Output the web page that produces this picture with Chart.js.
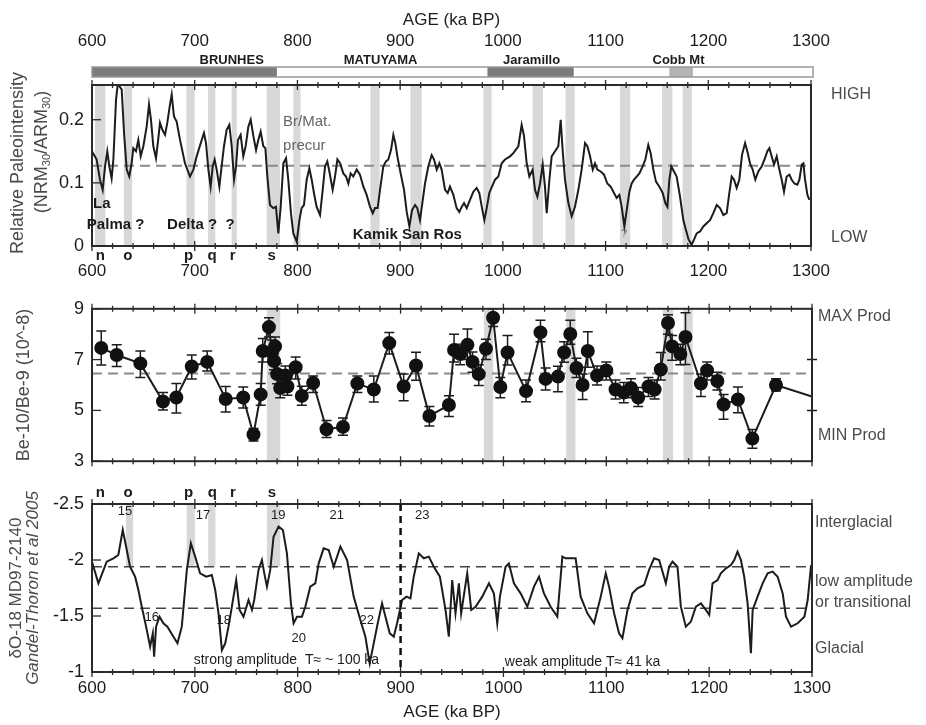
<!DOCTYPE html>
<html>
<head>
<meta charset="utf-8">
<script src="https://cdn.jsdelivr.net/npm/chart.js@4.4.1/dist/chart.umd.min.js"></script>
<style>
  html, body { margin: 0; padding: 0; background: #fff; }
  #wrap { position: relative; width: 926px; height: 725px; overflow: hidden; }
  canvas { position: absolute; left: 0; }
</style>
</head>
<body>
<div id="wrap">
  <canvas id="c1" width="926" height="290" style="top:0"></canvas>
  <canvas id="c2" width="926" height="190" style="top:290px"></canvas>
  <canvas id="c3" width="926" height="245" style="top:480px"></canvas>
</div>
<script>
// ---- data ----
const ageTicks = [600, 700, 800, 900, 1000, 1100, 1200, 1300];
const pintTicks = [0, 0.1, 0.2];
const beTicks = [3, 5, 7, 9];
const o18Ticks = [-2.5, -2, -1.5, -1];

// relative paleointensity (age ka, NRM30/ARM30)
const paleoIntensity = [
  [600,0.150],[604.5,0.137],[607.8,0.105],[610.4,0.089],[612.7,0.126],[614.9,0.150],[616.9,0.126],[619.1,0.107],[620.8,0.137],[623.4,0.232],
  [625,0.255],[626.6,0.253],[628.9,0.248],[631.2,0.179],[633.8,0.121],[636.3,0.110],[638.6,0.131],[640.2,0.155],[642.8,0.150],[645.1,0.168],
  [647.4,0.142],[650,0.158],[653.2,0.189],[655.5,0.224],[657.4,0.200],[659.7,0.158],[662.3,0.139],[664.6,0.171],[666.2,0.195],[668.5,0.184],
  [671.1,0.176],[673.3,0.195],[675.9,0.224],[677.6,0.240],[679.8,0.205],[682.4,0.197],[685.7,0.168],[690.5,0.131],[695.4,0.110],[698.7,0.121],
  [701.9,0.142],[706.8,0.168],[709,0.179],[711,0.163],[713.3,0.121],[715.5,0.094],[717.5,0.126],[719.4,0.137],[721.4,0.121],[724,0.094],
  [726.2,0.126],[728.5,0.158],[731.1,0.184],[733.7,0.192],[736,0.158],[738.3,0.105],[740.2,0.126],[742.1,0.168],[744.7,0.176],[747.3,0.142],
  [749.6,0.158],[752.2,0.189],[754.5,0.200],[757.1,0.174],[759.7,0.152],[761.9,0.168],[764.2,0.181],[766.8,0.158],[768.8,0.155],[770.7,0.110],
  [773.3,0.065],[776.5,0.060],[779.1,0.062],[781.4,0.020],[783.7,0.062],[786.3,0.131],[788.9,0.139],[791.1,0.105],[793.7,0.052],[796,0.020],
  [799.3,0.007],[801.9,0.041],[804.1,0.060],[806.4,0.065],[809,0.105],[811.6,0.123],[813.9,0.105],[816.1,0.084],[818.7,0.062],[822,0.049],
  [824.6,0.089],[826.9,0.126],[829.1,0.134],[831.1,0.118],[834.3,0.089],[836.6,0.110],[838.9,0.137],[841.5,0.131],[844.7,0.115],[847.3,0.110],
  [849.6,0.099],[851.8,0.115],[854.4,0.110],[857.7,0.121],[860.9,0.113],[864.2,0.094],[867.4,0.081],[870.7,0.062],[873.3,0.052],[875.5,0.060],
  [878.1,0.060],[880.4,0.089],[883.6,0.126],[886.2,0.134],[888.5,0.137],[891.1,0.152],[893.4,0.176],[895.3,0.163],[897.3,0.142],[900.5,0.115],
  [903.8,0.089],[906.4,0.054],[909,0.031],[911.6,0.057],[914.5,0.065],[916.7,0.060],[919.3,0.041],[921.6,0.068],[924.2,0.099],[927.4,0.126],
  [930.7,0.144],[933,0.137],[935.6,0.121],[938.2,0.131],[940.4,0.121],[943.7,0.089],[946.3,0.084],[948.5,0.094],[951.8,0.081],[955,0.060],
  [957.6,0.054],[959.9,0.062],[962.2,0.068],[964.8,0.060],[968,0.073],[971.3,0.086],[974.5,0.092],[977.1,0.084],[979.7,0.060],[982,0.041],
  [984.3,0.060],[986.8,0.084],[989.4,0.094],[992.4,0.105],[995.6,0.110],
  [998.9,0.131],[1002.1,0.137],[1007,0.142],[1010.2,0.147],[1015.1,0.158],[1018.3,0.192],[1020.6,0.174],[1023.2,0.131],[1025.8,0.110],[1029,0.121],
  [1031.3,0.089],[1033.6,0.078],[1036.2,0.099],[1038.8,0.129],[1041,0.094],[1042.7,0.052],[1045.3,0.105],[1047.5,0.142],[1050.8,0.150],[1054,0.158],
  [1056.3,0.200],[1058.2,0.152],[1060.5,0.105],[1063.8,0.068],[1067,0.047],[1070.2,0.062],[1073.5,0.089],[1076.7,0.121],[1080,0.163],[1082.3,0.158],
  [1084.9,0.142],[1087.5,0.121],[1089.7,0.131],[1092,0.121],[1095.2,0.118],[1098.5,0.113],[1101.7,0.099],[1105,0.094],[1108.2,0.084],[1110.8,0.076],
  [1113.4,0.081],[1115.7,0.062],[1118.3,0.031],[1120.6,0.057],[1123.2,0.086],[1125.4,0.099],[1127.7,0.105],[1130.3,0.110],[1132.9,0.115],[1136.1,0.126],
  [1138.7,0.137],[1141.6,0.160],[1143.9,0.147],[1146.5,0.121],[1149.1,0.102],[1152.4,0.094],[1155.6,0.084],[1158.2,0.068],[1160.2,0.062],[1162.1,0.105],
  [1164,0.126],[1166.6,0.118],[1169.2,0.110],[1172.5,0.078],[1175.7,0.041],[1178.3,0.025],[1180.9,0.010],[1183.8,0.002],[1186.1,0.010],[1188.7,0.020],
  [1192,0.023],[1195.2,0.031],[1198.4,0.036],[1201.7,0.041],[1204.9,0.052],[1208.2,0.065],[1211.4,0.060],[1214.7,0.049],[1217.9,0.052],[1220.5,0.084],
  [1222.8,0.110],[1225.1,0.105],[1227.6,0.092],[1230.2,0.105],[1232.8,0.144],[1235.8,0.163],[1238,0.150],[1240.6,0.131],[1243.2,0.121],[1245.8,0.105],
  [1248.7,0.118],[1252,0.126],[1255.2,0.139],[1257.5,0.150],[1259.5,0.155],[1261.7,0.142],[1264,0.129],[1266.6,0.142],[1269.2,0.121],[1271.5,0.105],
  [1273.7,0.086],[1276.3,0.110],[1279,0.113],[1281.2,0.105],[1283.8,0.099],[1286.7,0.097],[1288.7,0.105],[1291,0.129],[1292.6,0.131],[1294.2,0.105],
  [1296.5,0.081],[1298.4,0.073]
];
const pintMean = 0.127;

// Be-10/Be-9 (age ka, ratio, error low, error high)
const beRatio = [
  [609,7.46,6.79,8.13],[624,7.18,6.73,7.58],[647,6.85,6.30,7.34],[669,5.35,5.02,5.70],[682,5.51,4.90,6.06],
  [697,6.73,6.24,7.18],[712,6.91,6.55,7.34],[730,5.45,4.94,5.94],[747,5.51,5.09,5.92],[757,4.05,3.80,4.29],
  [764,5.63,5.20,6.06],[766,7.34,6.91,7.83],[772,8.28,7.89,8.65],[775,7.28,6.91,7.77],[777,6.94,6.60,7.30],
  [778,7.52,7.04,7.89],[780,6.43,6.05,6.85],[783,5.88,5.50,6.30],[788,6.37,6.00,6.75],[790,5.94,5.60,6.30],
  [798,6.70,6.24,7.10],[804,5.57,5.20,5.95],[815,6.08,5.70,6.35],[828,4.26,3.93,4.60],[844,4.35,4.02,4.70],
  [858,6.06,5.70,6.35],[874,5.82,5.33,6.35],[889,7.65,7.22,8.07],[903,5.94,5.38,6.43],[915,6.77,6.19,7.29],
  [928,4.78,4.39,5.15],[947,5.21,4.76,5.58],[952,7.38,6.91,8.00],[958,7.22,6.80,7.60],[965,7.58,7.00,8.20],
  [970,6.91,6.50,7.30],[976,6.43,5.98,6.80],[983,7.43,7.00,7.80],[990,8.65,8.30,9.00],[997,5.92,5.50,6.30],
  [1004,7.28,6.79,7.95],[1022,5.76,5.34,6.20],[1036,8.07,7.70,8.55],[1041,6.24,5.80,6.67],[1053,6.33,5.73,6.74],
  [1059,7.28,6.90,7.70],[1065,8.01,7.60,8.55],[1071,6.67,6.30,7.05],[1077,6.00,5.43,6.43],[1082,7.34,6.70,8.10],
  [1091,6.37,6.00,6.75],[1100,6.57,6.20,6.91],[1109,5.82,5.45,6.20],[1117,5.70,5.30,6.10],[1124,5.88,5.50,6.25],
  [1131,5.51,5.15,5.90],[1141,5.94,5.55,6.30],[1147,5.82,5.45,6.20],[1153,6.61,6.20,7.28],[1160,8.44,8.00,8.77],
  [1164,7.52,6.97,7.95],[1172,7.22,6.80,7.60],[1177,7.89,6.81,8.84],[1192,6.06,5.55,6.43],[1198,6.57,6.20,6.91],
  [1208,6.16,5.80,6.50],[1214,5.23,4.65,5.63],[1228,5.43,4.91,5.92],[1242,3.89,3.51,4.25],[1265,6.00,5.76,6.25],
  [1300,5.55,5.00,7.00]
];
const beMean = 6.45;

// dO-18 MD97-2140 (age ka, permil)
const deltaO18 = [
  [600,-1.985],[606.2,-1.792],[614.3,-1.985],[620.8,-2.015],[625.6,-2.045],[629.9,-2.268],[633.8,-2.089],[637,-1.940],[641.9,-1.851],[645.1,-1.732],
  [648.4,-1.583],[652.6,-1.405],[656.5,-1.226],[659.1,-1.345],[660.4,-1.137],[662.3,-1.405],[665.6,-1.494],[669.4,-1.435],[673.3,-1.405],[679.2,-1.315],
  [683.1,-1.256],[687.3,-1.405],[692.2,-1.911],[696.1,-2.149],[700.3,-2.030],[705.1,-1.881],[711,-1.851],[716.5,-1.866],[719.8,-1.732],[723,-1.524],
  [726.3,-1.196],[729.5,-1.256],[732.7,-1.405],[736,-1.583],[740.2,-1.821],[743.5,-1.554],[747.3,-1.494],[752.2,-1.643],[755.5,-1.554],[757.7,-1.643],
  [761.9,-1.911],[765.2,-2.000],[767.5,-1.881],[770.1,-1.762],[773.3,-1.911],[776.5,-2.208],[781.4,-2.298],[785.6,-2.268],[789.5,-2.059],[793.4,-1.613],
  [796,-1.435],[799.3,-1.494],[804.1,-1.494],[807.4,-1.583],[812.2,-1.762],[817.1,-1.792],[820.4,-1.970],[825.2,-2.104],[830.1,-2.089],[835,-1.940],
  [841.5,-2.119],[848,-2.000],[854.4,-1.673],[860.9,-1.464],[865.8,-1.315],[870,-1.077],[873.9,-1.256],[877.8,-1.435],[882,-1.613],[885.3,-1.494],
  [889.5,-1.345],[893.4,-1.315],[896.6,-1.435],[901.5,-1.643],[905.7,-1.673],[909.6,-1.658],[912.8,-1.851],[917.7,-2.059],[922.6,-2.015],[927.5,-2.030],
  [932.3,-1.940],[938.2,-1.851],[943.7,-1.554],[946.9,-1.315],[950.2,-1.821],[953.4,-1.524],[956.7,-1.792],[958.9,-1.524],[964.8,-1.881],[968.7,-1.554],
  [972.9,-1.583],[979.4,-1.673],[985.9,-1.792],[990.7,-1.702],[994,-1.435],[996.6,-1.673],[1002.1,-1.940],[1005.3,-1.970],[1010.2,-1.792],[1016.7,-1.702],
  [1023.2,-1.583],[1029.7,-1.762],[1034.6,-1.851],[1039.4,-1.702],[1045.9,-1.583],[1052.4,-1.494],[1057.3,-2.030],[1060.5,-2.015],[1065.4,-2.015],[1070.2,-2.015],
  [1075.1,-1.673],[1081.6,-1.524],[1088.1,-1.435],[1094.6,-1.673],[1099.5,-1.881],[1102.7,-1.762],[1107.6,-1.524],[1112.4,-1.345],[1115.7,-1.301],[1120.6,-1.554],
  [1125.4,-1.702],[1130.3,-1.747],[1136.8,-1.777],[1141.6,-1.911],[1146.5,-2.015],[1151.4,-2.000],[1157.9,-1.792],[1161.1,-1.940],[1164.4,-1.985],[1169.2,-1.940],
  [1172.5,-1.583],[1177.3,-1.405],[1182.2,-1.449],[1187.1,-1.583],[1192,-1.613],[1196.8,-1.554],[1200.1,-1.509],[1203.3,-1.792],[1208.2,-1.821],[1211.4,-1.881],
  [1216.3,-1.926],[1221.2,-1.955],[1224.4,-2.000],[1227.6,-2.074],[1230.9,-2.000],[1234.1,-1.851],[1237.4,-1.613],[1240.6,-1.167],[1242.3,-1.554],[1247.1,-1.673],
  [1252,-1.792],[1256.9,-1.881],[1261.7,-1.896],[1266.6,-1.851],[1271.5,-1.702],[1274.7,-1.494],[1279.6,-1.405],[1286.1,-1.435],[1292.6,-1.494],[1295.8,-1.643],
  [1299.1,-1.955]
];
const o18Levels = [-1.94, -1.57];
const mptAge = 900;

// shaded excursion intervals (ka)
const pintBands = [[603,613],[631,639],[692,700],[713,720],[736,741],[770,783],[796,803],[871,880],[910,921],
  [981,989],[1029,1039],[1061,1070],[1114,1124],[1155,1165],[1175,1184]];
const beBands = [[770,783],[981,990],[1061,1070],[1155,1165],[1175,1184]];
const o18Bands = [[633,640],[692,700],[713,720],[770,783]];

// polarity chrons
const chronNames = ['BRUNHES', 'MATUYAMA', 'Jaramillo', 'Cobb Mt'];
const chronLabelAges = [736, 881, 1028, 1171];
const normalChrons = [[600,780],[985,1069]];
const cobbMt = [1162,1185];

// excursion letters
const excLetters = ['n', 'o', 'p', 'q', 'r', 's'];
const excAges = [608, 635, 694, 717, 737, 775];

// marine isotope stages
const misNames = ['15', '17', '19', '21', '23', '16', '18', '20', '22'];
const misAges = [632, 708, 781, 838, 921, 658, 728, 801, 867];
const misVals = [-2.43, -2.40, -2.40, -2.40, -2.40, -1.49, -1.46, -1.30, -1.46];

// ---- drawing ----
const FONT = "'Liberation Sans', Arial, Helvetica, sans-serif";
const INK = '#1c1c1c';
const GREY = '#4a4a4a';

function put(ctx, s, px, py, font, color, align) {
  ctx.font = font;
  ctx.fillStyle = color;
  ctx.textAlign = align || 'center';
  ctx.textBaseline = 'middle';
  ctx.fillText(s, px, py);
}

function putV(ctx, parts, px, py) {
  ctx.save();
  ctx.translate(px, py);
  ctx.rotate(-Math.PI / 2);
  let w = 0;
  parts.forEach(p => { ctx.font = p[1]; w += ctx.measureText(p[0]).width; });
  let cx = -w / 2;
  ctx.textAlign = 'left';
  ctx.textBaseline = 'middle';
  ctx.fillStyle = GREY;
  parts.forEach(p => {
    ctx.font = p[1];
    ctx.fillText(p[0], cx, p[2] || 0);
    cx += ctx.measureText(p[0]).width;
  });
  ctx.restore();
}

function makeDecor(o) {
  return {
    id: 'decor',
    beforeDatasetsDraw(chart) {
      const { ctx, chartArea: a, scales: { x, y } } = chart;
      ctx.save();
      ctx.fillStyle = '#d8d8d8';
      const yb = o.bandTo != null ? y.getPixelForValue(o.bandTo) : a.bottom;
      o.bands.forEach(([b0, b1]) => {
        const x0 = x.getPixelForValue(b0), x1 = x.getPixelForValue(b1);
        ctx.fillRect(x0, a.top, x1 - x0, yb - a.top);
      });
      ctx.strokeStyle = o.dashColor;
      ctx.lineWidth = o.dashWidth;
      ctx.setLineDash([10, 6]);
      o.levels.forEach(v => {
        const py = y.getPixelForValue(v);
        ctx.beginPath(); ctx.moveTo(a.left, py); ctx.lineTo(a.right, py); ctx.stroke();
      });
      ctx.setLineDash([]);
      if (o.errors) {
        ctx.strokeStyle = INK;
        ctx.lineWidth = 1.5;
        o.errors.forEach(r => {
          const px = x.getPixelForValue(r[0]);
          const lo = y.getPixelForValue(r[2]), hi = y.getPixelForValue(r[3]);
          ctx.beginPath();
          ctx.moveTo(px, lo); ctx.lineTo(px, hi);
          ctx.moveTo(px - 5, lo); ctx.lineTo(px + 5, lo);
          ctx.moveTo(px - 5, hi); ctx.lineTo(px + 5, hi);
          ctx.stroke();
        });
      }
      ctx.restore();
    },
    afterDraw(chart) {
      const { ctx, chartArea: a, scales: { x, y } } = chart;
      ctx.save();
      ctx.strokeStyle = '#2a2a2a';
      ctx.lineWidth = 2;
      ctx.strokeRect(a.left, a.top, a.right - a.left, a.bottom - a.top);
      ctx.lineWidth = 1.3;
      for (let v = 600; v <= 1300; v += 20) {
        const px = x.getPixelForValue(v);
        const h = v % 100 === 0 ? 5 : 3;
        ctx.beginPath();
        ctx.moveTo(px, a.top - h); ctx.lineTo(px, a.top + h);
        ctx.moveTo(px, a.bottom - h); ctx.lineTo(px, a.bottom + h);
        ctx.stroke();
      }
      o.yTicks.forEach(v => {
        const py = y.getPixelForValue(v);
        ctx.beginPath(); ctx.moveTo(a.left, py); ctx.lineTo(a.left + 9, py); ctx.stroke();
      });
      o.extra(ctx, a, v => x.getPixelForValue(v), v => y.getPixelForValue(v));
      ctx.restore();
    }
  };
}

function ageScale(pos, h, pad, titlePad) {
  return {
    type: 'linear', position: pos, min: 600, max: 1300,
    afterBuildTicks: s => { s.ticks = ageTicks.map(v => ({ value: v })); },
    afterFit: s => { s.height = h; },
    grid: { display: false, drawTicks: false },
    border: { display: false },
    ticks: { padding: pad, autoSkip: false, maxRotation: 0, color: INK,
      font: { family: FONT, size: 17 }, callback: v => String(v) },
    title: titlePad ? { display: true, text: 'AGE (ka BP)', color: INK,
      font: { family: FONT, size: 17 }, padding: titlePad } : { display: false }
  };
}

function valueScale(min, max, ticks, reverse) {
  return {
    type: 'linear', position: 'left', min, max, reverse: !!reverse,
    afterBuildTicks: s => { s.ticks = ticks.map(v => ({ value: v })); },
    afterFit: s => { s.width = 92; },
    grid: { display: false, drawTicks: false },
    border: { display: false },
    ticks: { padding: 8, color: INK, font: { family: FONT, size: 18 }, callback: v => String(v) }
  };
}

const base = {
  responsive: false, animation: false, devicePixelRatio: 1, events: [],
  plugins: { legend: { display: false }, tooltip: { enabled: false } }
};

const letters = (ctx, X, py) => {
  excLetters.forEach((s, i) => put(ctx, s, X(excAges[i]), py, 'bold 15px ' + FONT, INK));
};

// panel 1: relative paleointensity
new Chart(document.getElementById('c1'), {
  type: 'line',
  data: { datasets: [{ data: paleoIntensity.map(([t, v]) => ({ x: t, y: v })),
    borderColor: INK, borderWidth: 2, pointRadius: 0, tension: 0 }] },
  options: Object.assign({}, base, {
    layout: { padding: { left: 0, right: 115, top: 0, bottom: 0 } },
    scales: {
      x: ageScale('top', 85, 33, { top: 10, bottom: 0 }),
      x2: ageScale('bottom', 44, 15, null),
      y: valueScale(0, 0.255, pintTicks)
    }
  }),
  plugins: [makeDecor({
    bands: pintBands, levels: [pintMean], dashColor: '#8a8a8a', dashWidth: 2, yTicks: pintTicks,
    extra(ctx, a, X, Y) {
      // polarity bar
      const by = a.top - 18, bh = 10;
      ctx.fillStyle = '#fff';
      ctx.fillRect(X(600), by, X(1302) - X(600), bh);
      ctx.fillStyle = '#7c7c7c';
      normalChrons.forEach(([c0, c1]) => ctx.fillRect(X(c0), by, X(c1) - X(c0), bh));
      ctx.fillStyle = '#b4b4b4';
      ctx.fillRect(X(cobbMt[0]), by, X(cobbMt[1]) - X(cobbMt[0]), bh);
      ctx.strokeStyle = '#999'; ctx.lineWidth = 1.5;
      ctx.strokeRect(X(600), by, X(1302) - X(600), bh);
      chronNames.forEach((s, i) => put(ctx, s, X(chronLabelAges[i]), a.top - 25, 'bold 13px ' + FONT, INK));
      // annotations
      put(ctx, 'La', X(601), Y(0.067), 'bold 15px ' + FONT, INK, 'left');
      put(ctx, 'Palma ?', X(623), Y(0.033), 'bold 15px ' + FONT, INK);
      put(ctx, 'Delta ?  ?', X(706), Y(0.033), 'bold 15px ' + FONT, INK);
      put(ctx, 'Br/Mat.', X(786), Y(0.197), '15px ' + FONT, '#666', 'left');
      put(ctx, 'precur', X(786), Y(0.159), '15px ' + FONT, '#666', 'left');
      put(ctx, 'Kamik San Ros', X(907), Y(0.017), 'bold 15px ' + FONT, INK);
      put(ctx, '?', X(1118), Y(0.019), '11px ' + FONT, '#666');
      letters(ctx, X, a.bottom + 10);
      put(ctx, 'HIGH', a.right + 20, Y(0.240), '16px ' + FONT, GREY, 'left');
      put(ctx, 'LOW', a.right + 20, Y(0.014), '16px ' + FONT, GREY, 'left');
      putV(ctx, [['Relative Paleointensity', '18px ' + FONT]], 18, 163);
      putV(ctx, [['(NRM', '18px ' + FONT], ['30', '11px ' + FONT, 5], ['/ARM', '18px ' + FONT],
        ['30', '11px ' + FONT, 5], [')', '18px ' + FONT]], 42, 152);
    }
  })]
});

// panel 2: Be-10/Be-9
new Chart(document.getElementById('c2'), {
  type: 'line',
  data: { datasets: [{ data: beRatio.map(r => ({ x: r[0], y: r[1] })),
    borderColor: INK, borderWidth: 2, tension: 0,
    pointRadius: c => (c.dataIndex === beRatio.length - 1 ? 0 : 6),
    pointBackgroundColor: '#111', pointBorderColor: '#111' }] },
  options: Object.assign({}, base, {
    layout: { padding: { left: 0, right: 114, top: 13, bottom: 13 } },
    scales: {
      x: { type: 'linear', min: 600, max: 1300, display: false },
      y: valueScale(3, 9, beTicks)
    }
  }),
  plugins: [makeDecor({
    bands: beBands, levels: [beMean], dashColor: '#8a8a8a', dashWidth: 2, yTicks: beTicks, errors: beRatio,
    extra(ctx, a, X, Y) {
      put(ctx, 'MAX Prod', a.right + 6, Y(8.7), '16px ' + FONT, GREY, 'left');
      put(ctx, 'MIN Prod', a.right + 6, Y(4.0), '16px ' + FONT, GREY, 'left');
      putV(ctx, [['Be-10/Be-9 (10^-8)', '18px ' + FONT]], 24, (a.top + a.bottom) / 2);
    }
  })]
});

// panel 3: dO-18
new Chart(document.getElementById('c3'), {
  type: 'line',
  data: { datasets: [{ data: deltaO18.map(([t, v]) => ({ x: t, y: v })),
    borderColor: INK, borderWidth: 2, pointRadius: 0, tension: 0 }] },
  options: Object.assign({}, base, {
    layout: { padding: { left: 0, right: 114, top: 24, bottom: 0 } },
    scales: {
      x: ageScale('bottom', 53, 6, { top: 0, bottom: 2 }),
      y: valueScale(-2.5, -1, o18Ticks, true)
    }
  }),
  plugins: [makeDecor({
    bands: o18Bands, bandTo: o18Levels[0], levels: o18Levels, dashColor: '#444', dashWidth: 1.5, yTicks: o18Ticks,
    extra(ctx, a, X, Y) {
      ctx.strokeStyle = '#111'; ctx.lineWidth = 2.5; ctx.setLineDash([7, 5]);
      ctx.beginPath(); ctx.moveTo(X(mptAge), a.top); ctx.lineTo(X(mptAge), a.bottom); ctx.stroke();
      ctx.setLineDash([]);
      misNames.forEach((s, i) => put(ctx, s, X(misAges[i]), Y(misVals[i]), '13px ' + FONT, INK));
      put(ctx, 'strong amplitude  T\u2248 ~ 100 ka', X(789), Y(-1.11), '14px ' + FONT, INK);
      put(ctx, 'weak amplitude T\u2248 41 ka', X(1077), Y(-1.09), '14px ' + FONT, INK);
      letters(ctx, X, a.top - 11);
      put(ctx, 'Interglacial', a.right + 3, Y(-2.33), '16px ' + FONT, GREY, 'left');
      put(ctx, 'low amplitude', a.right + 3, Y(-1.81), '16px ' + FONT, GREY, 'left');
      put(ctx, 'or transitional', a.right + 3, Y(-1.62), '16px ' + FONT, GREY, 'left');
      put(ctx, 'Glacial', a.right + 3, Y(-1.21), '16px ' + FONT, GREY, 'left');
      const mid = (a.top + a.bottom) / 2;
      putV(ctx, [['\u03b4O-18 MD97-2140', '17px ' + FONT]], 16, mid);
      putV(ctx, [['Gandel-Thoron et al 2005', 'italic 17px ' + FONT]], 33, mid);
    }
  })]
});
</script>
</body>
</html>
